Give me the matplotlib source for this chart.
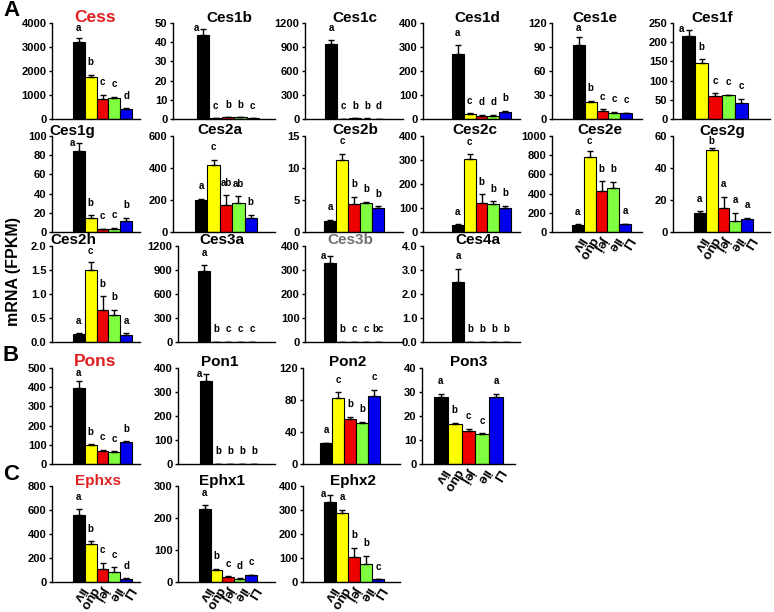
import matplotlib
matplotlib.use("Agg")
import matplotlib.pyplot as plt
import numpy as np

plt.rcParams['font.family'] = ['Liberation Sans', 'DejaVu Sans']
plt.rcParams['font.weight'] = 'bold'

tissues = ['liv', 'duo', 'jej', 'ile', 'LI']
bar_colors = ['#000000', '#ffff00', '#ee0000', '#80ff40', '#0000ee']

# ---------------- data (FPKM, mean and upper error) ----------------
cess_val = [3190, 1770, 836, 878, 418]
cess_err = [180, 80, 180, 56, 28]
cess_sig = ['a', 'b', 'c', 'c', 'd']

ces1b_val = [43.6, 0.3, 0.8, 0.9, 0.3]
ces1b_err = [3.5, 0.1, 0.1, 0.1, 0.1]
ces1b_sig = ['a', 'c', 'b', 'b', 'c']

ces1c_val = [941, 3, 8, 6, 1]
ces1c_err = [50, 1, 1, 1, 0.5]
ces1c_sig = ['a', 'c', 'b', 'b', 'd']

ces1d_val = [272, 19.5, 14, 14, 31]
ces1d_err = [35, 4, 3, 4, 4]
ces1d_sig = ['a', 'c', 'd', 'd', 'b']

ces1e_val = [92, 21.7, 10, 8, 7.1]
ces1e_err = [10.4, 0.9, 2.5, 0.8, 0.9]
ces1e_sig = ['a', 'b', 'c', 'c', 'c']

ces1f_val = [215, 147, 60, 62.7, 42.7]
ces1f_err = [17.6, 9, 7, 1, 10]
ces1f_sig = ['a', 'b', 'c', 'c', 'c']

ces1g_val = [84.4, 14.6, 3.1, 3.1, 11.5]
ces1g_err = [8.3, 2.8, 0.4, 1.1, 3.4]
ces1g_sig = ['a', 'b', 'c', 'c', 'b']

ces2a_val = [202, 417, 171, 181, 90]
ces2a_err = [6, 35, 58, 42, 18]
ces2a_sig = ['a', 'c', 'ab', 'ab', 'b']

ces2b_val = [1.72, 11.2, 4.32, 4.53, 3.75]
ces2b_err = [0.21, 1.04, 1.15, 0.21, 0.25]
ces2b_sig = ['a', 'c', 'b', 'b', 'b']

ces2c_val = [30.5, 305.6, 121, 115, 101]
ces2c_err = [2.5, 18, 36, 13, 9]
ces2c_sig = ['a', 'c', 'b', 'b', 'b']

ces2e_val = [76, 781, 424, 462, 80]
ces2e_err = [4, 63, 104, 59, 7]
ces2e_sig = ['a', 'c', 'b', 'b', 'a']

ces2g_val = [11.9, 51.5, 15.2, 6.9, 7.9]
ces2g_err = [1.0, 1.0, 6.7, 5.0, 1.1]
ces2g_sig = ['a', 'b', 'a', 'a', 'a']

ces2h_val = [0.16, 1.49, 0.67, 0.56, 0.153]
ces2h_err = [0.02, 0.17, 0.28, 0.11, 0.03]
ces2h_sig = ['a', 'c', 'b', 'b', 'a']

ces3a_val = [883, 2, 1, 1, 0.5]
ces3a_err = [75, 0, 0, 0, 0]
ces3a_sig = ['a', 'b', 'c', 'c', 'c']

ces3b_val = [329, 1, 0.5, 0.5, 0.5]
ces3b_err = [29, 0, 0, 0, 0]
ces3b_sig = ['a', 'b', 'c', 'c', 'bc']

ces4a_val = [2.5, 0.02, 0.01, 0.01, 0.01]
ces4a_err = [0.56, 0, 0, 0, 0]
ces4a_sig = ['a', 'b', 'b', 'b', 'b']

pons_val = [398, 98, 70, 64, 112]
pons_err = [33, 5, 3, 3, 7]
pons_sig = ['a', 'b', 'c', 'c', 'b']

pon1_val = [344, 1, 1, 1, 1]
pon1_err = [31, 0, 0, 0, 0]
pon1_sig = ['a', 'b', 'b', 'b', 'b']

pon2_val = [26, 83, 56, 51, 84.6]
pon2_err = [0.7, 6.6, 2.8, 2, 8.4]
pon2_sig = ['a', 'c', 'b', 'b', 'c']

pon3_val = [27.9, 16.7, 13.6, 12.6, 27.9]
pon3_err = [1.4, 0.4, 1.0, 0.3, 1.3]
pon3_sig = ['a', 'b', 'c', 'c', 'a']

ephxs_val = [557, 320, 111, 84, 28]
ephxs_err = [48, 20, 51, 41, 5]
ephxs_sig = ['a', 'b', 'c', 'c', 'd']

ephx1_val = [228, 38.7, 15.7, 10.4, 20.9]
ephx1_err = [12, 3, 2, 2, 2]
ephx1_sig = ['a', 'b', 'c', 'd', 'c']

ephx2_val = [332, 286, 104.5, 76.7, 11]
ephx2_err = [32, 16, 37.5, 32, 1.5]
ephx2_sig = ['a', 'a', 'b', 'b', 'c']

# ---------------- layout (pixels) ----------------
W, H = 774, 612
RED_T = '#e02020'
GRAY_T = '#707070'
rows = {'1': (23, 119), '2': (136, 232), '3': (246, 342), 'B': (368, 464), 'C': (486, 582)}

# name, val, err, sig, ymax, ystep, fmt, title color, title size, row, L, R, bar0, bar1, title_x, xlabels
panels = [
    ('Cess', cess_val, cess_err, cess_sig, 4000, 1000, '%d', RED_T, 12.5, '1', 52, 140, 73, 132, 95, False),
    ('Ces1b', ces1b_val, ces1b_err, ces1b_sig, 50, 10, '%d', 'black', 11, '1', 173, 275, 197, 259, 229, False),
    ('Ces1c', ces1c_val, ces1c_err, ces1c_sig, 1200, 300, '%d', 'black', 11, '1', 305, 403, 325, 385, 355, False),
    ('Ces1d', ces1d_val, ces1d_err, ces1d_sig, 400, 100, '%d', 'black', 11, '1', 423, 520, 452, 511, 477, False),
    ('Ces1e', ces1e_val, ces1e_err, ces1e_sig, 120, 30, '%d', 'black', 11, '1', 552, 642, 573, 632, 595, False),
    ('Ces1f', ces1f_val, ces1f_err, ces1f_sig, 250, 50, '%d', 'black', 11, '1', 673, 770, 682, 748, 712, False),
    ('Ces1g', ces1g_val, ces1g_err, ces1g_sig, 100, 20, '%d', 'black', 11, '2', 52, 140, 73, 132, 72, False),
    ('Ces2a', ces2a_val, ces2a_err, ces2a_sig, 600, 200, '%d', 'black', 11, '2', 173, 275, 195, 257, 220, False),
    ('Ces2b', ces2b_val, ces2b_err, ces2b_sig, 15, 5, '%d', 'black', 11, '2', 305, 403, 324, 384, 355, False),
    ('Ces2c', ces2c_val, ces2c_err, ces2c_sig, 400, 100, '%d', 'black', 11, '2', 423, 520, 452, 511, 475, False),
    ('Ces2e', ces2e_val, ces2e_err, ces2e_sig, 1000, 200, '%d', 'black', 11, '2', 552, 642, 572, 631, 600, True),
    ('Ces2g', ces2g_val, ces2g_err, ces2g_sig, 60, 20, '%d', 'black', 11, '2', 673, 770, 694, 753, 722, True),
    ('Ces2h', ces2h_val, ces2h_err, ces2h_sig, 2.0, 0.5, '%.1f', 'black', 11, '3', 52, 140, 73, 132, 73, False),
    ('Ces3a', ces3a_val, ces3a_err, ces3a_sig, 1200, 300, '%d', 'black', 11, '3', 178, 275, 198, 258, 222, False),
    ('Ces3b', ces3b_val, ces3b_err, ces3b_sig, 400, 100, '%d', GRAY_T, 11, '3', 305, 403, 324, 384, 350, False),
    ('Ces4a', ces4a_val, ces4a_err, ces4a_sig, 4.0, 1.0, '%.1f', 'black', 11, '3', 423, 520, 452, 512, 478, False),
    ('Pons', pons_val, pons_err, pons_sig, 500, 100, '%d', RED_T, 12.5, 'B', 52, 140, 73, 132, 95, False),
    ('Pon1', pon1_val, pon1_err, pon1_sig, 400, 100, '%d', 'black', 11, 'B', 178, 275, 200, 260, 220, False),
    ('Pon2', pon2_val, pon2_err, pon2_sig, 120, 40, '%d', 'black', 11, 'B', 303, 400, 320, 380, 348, False),
    ('Pon3', pon3_val, pon3_err, pon3_sig, 40, 10, '%d', 'black', 11, 'B', 422, 515, 434, 503, 469, True),
    ('Ephxs', ephxs_val, ephxs_err, ephxs_sig, 800, 200, '%d', RED_T, 11, 'C', 52, 140, 73, 132, 98, True),
    ('Ephx1', ephx1_val, ephx1_err, ephx1_sig, 300, 100, '%d', 'black', 11, 'C', 178, 275, 199, 257, 222, True),
    ('Ephx2', ephx2_val, ephx2_err, ephx2_sig, 400, 100, '%d', 'black', 11, 'C', 303, 400, 324, 384, 353, True),
]

fig = plt.figure(figsize=(W / 100, H / 100), dpi=100)
PT = 100 / 72.0  # pixels per point

for (name, val, err, sig, ymax, ystep, fmt, tcol, tsize, row, L, R, b0, b1, tx, showx) in panels:
    top, bot = rows[row]
    ax = fig.add_axes([L / W, 1 - bot / H, (R - L) / W, (bot - top) / H])
    n = len(val)
    bw = (b1 - b0) / n
    x = np.arange(n)
    xl = -0.5 - (b0 - L) / bw
    ax.set_xlim(xl, xl + (R - L) / bw)
    ax.set_ylim(0, ymax)
    ax.bar(x, val, width=1.0, color=bar_colors, edgecolor='black', linewidth=0.8, zorder=2)
    ax.errorbar(x, val, yerr=[np.zeros(n), err], fmt='none', ecolor='black',
                elinewidth=1.0, capsize=2.5, capthick=1.0, zorder=3)
    pxu = (bot - top) / ymax
    for i in range(n):
        top_px = bot - (val[i] + err[i]) * pxu
        base_px = max(top_px - 9.5, top + 8)
        if base_px > top_px - 3:
            # no room above: letter sits beside the error bar, at the bar's left edge
            ax.annotate(sig[i], xy=(x[i] - 0.55, val[i] + err[i]), xytext=(0, -2),
                        textcoords='offset points', ha='center', va='baseline',
                        fontsize=7, fontweight='bold', color='black')
        else:
            ax.annotate(sig[i], xy=(x[i], val[i] + err[i]),
                        xytext=(0, (top_px - base_px) / PT),
                        textcoords='offset points', ha='center', va='baseline',
                        fontsize=7, fontweight='bold', color='black')
    ticks = np.arange(0, ymax + ystep / 2, ystep)
    ax.set_yticks(ticks)
    ax.set_yticklabels([fmt % t for t in ticks])
    ax.set_xticks([])
    for s in ['top', 'right']:
        ax.spines[s].set_visible(False)
    for s in ['left', 'bottom']:
        ax.spines[s].set_linewidth(1.0)
    ax.tick_params(axis='y', length=2.5, width=1.0, pad=1.5, labelsize=8)
    for lab in ax.get_yticklabels():
        lab.set_fontweight('bold')
    ax.patch.set_alpha(0)
    fig.text(tx / W, 1 - (top - 1.5) / H, name, ha='center', va='baseline',
             fontsize=tsize, fontweight='bold', color=tcol)
    if showx:
        for i in range(n):
            ax.annotate(tissues[i], xy=(x[i], 0), xycoords=('data', 'axes fraction'),
                        xytext=(3, -4), textcoords='offset points', rotation=238,
                        rotation_mode='anchor', ha='left', va='center',
                        fontsize=9.5, fontweight='bold')

fig.text(3 / W, 1 - 11 / H, 'A', fontsize=16, fontweight='bold', va='center', ha='left')
fig.text(3 / W, 1 - 355 / H, 'B', fontsize=16, fontweight='bold', va='center', ha='left')
fig.text(3 / W, 1 - 475 / H, 'C', fontsize=16, fontweight='bold', va='center', ha='left')
fig.text(14 / W, 1 - 272 / H, 'mRNA (FPKM)', rotation=90, ha='center', va='center',
         fontsize=11.5, fontweight='bold')

fig.savefig('out.png', dpi=100)
